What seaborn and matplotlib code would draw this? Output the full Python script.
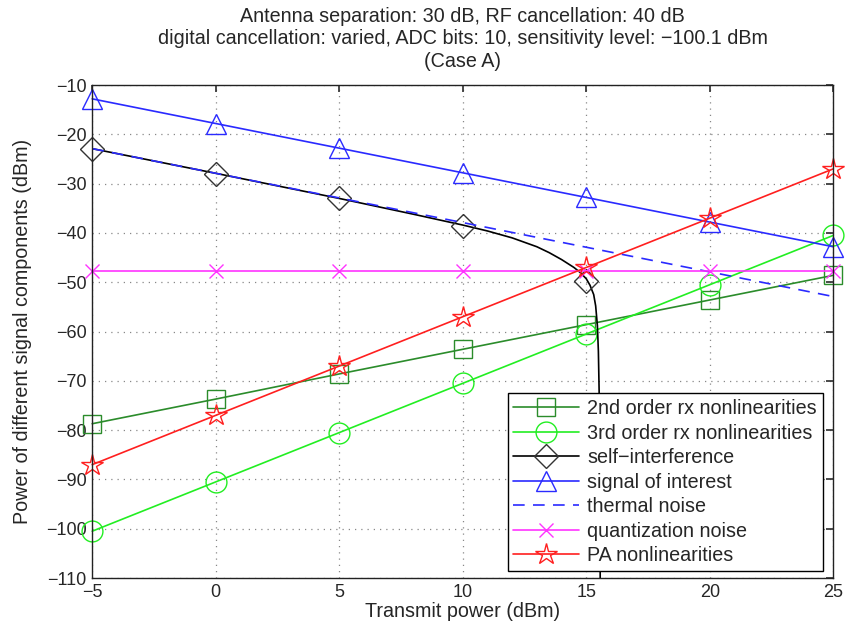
import numpy as np
import pandas as pd
import matplotlib
matplotlib.use("Agg")
import matplotlib.pyplot as plt
from matplotlib.lines import Line2D
import seaborn as sns

# ---- data ----
tx_power = [-5, 0, 5, 10, 15, 20, 25]
second_order = [-78.7, -73.7, -68.6, -63.6, -58.6, -53.6, -48.6]
third_order = [-100.5, -90.5, -80.5, -70.5, -60.5, -50.5, -40.5]
signal_of_interest = [-12.8, -17.8, -22.8, -27.8, -32.8, -37.8, -42.8]
thermal_noise = [-22.9, -27.9, -32.9, -37.9, -42.9, -47.9, -52.9]
quantization_noise = [-47.7, -47.7, -47.7, -47.7, -47.7, -47.7, -47.7]
pa_nonlin = [-87.0, -77.0, -67.0, -57.0, -47.0, -37.0, -27.0]
si_markers = [-22.9, -28.0, -33.0, -38.6, -49.8, np.nan, np.nan]
# self-interference curve (sampled along the drawn line)
si_curve_x = [-5, 0, 5, 8, 9, 10, 11, 12, 13, 13.5, 14, 14.5, 14.75, 15.0,
              15.15, 15.3, 15.38, 15.45, 15.49, 15.52, 15.55, 15.57]
si_curve_y = [-22.9, -27.9, -33.0, -36.2, -37.3, -38.4, -39.6, -41.0, -42.8,
              -44.0, -45.4, -47.0, -48.0, -49.3, -50.6, -52.5, -54.8, -58.8,
              -64.0, -72.0, -90.0, -120.0]

x_ticks = [-5, 0, 5, 10, 15, 20, 25]
y_ticks = [-110, -100, -90, -80, -70, -60, -50, -40, -30, -20, -10]

title = ("Antenna separation: 30 dB, RF cancellation: 40 dB\n"
         "digital cancellation: varied, ADC bits: 10, sensitivity level: \u2212100.1 dBm\n"
         "(Case A)")

sns.set_theme(style="white")
plt.rcParams['font.family'] = ['Liberation Sans', 'DejaVu Sans']
plt.rcParams['axes.unicode_minus'] = True

fig = plt.figure(figsize=(8.46, 6.30), dpi=100)
ax = fig.add_axes([0.109, 0.0825, 0.876, 0.7825])

c2 = '#2b8c2b'
c3 = '#22ee22'
cs = '#2a2aff'
cq = '#ff33ff'
cp = '#ff1f1f'

df = pd.DataFrame({'x': tx_power, 'y2': second_order, 'y3': third_order,
                   'ys': signal_of_interest, 'yt': thermal_noise,
                   'yq': quantization_noise, 'yp': pa_nonlin, 'ysi': si_markers})
dsi = pd.DataFrame({'x': si_curve_x, 'y': si_curve_y})

def series(col, color, marker, ms, lw=1.2, mew=1.0):
    sns.lineplot(data=df, x='x', y=col, ax=ax, color=color, lw=lw,
                 marker=marker, markersize=ms, markerfacecolor='none',
                 markeredgecolor=color, markeredgewidth=mew, legend=False,
                 clip_on=False)

series('y2', c2, 's', 13)
series('y3', c3, 'o', 15)
sns.lineplot(data=dsi, x='x', y='y', ax=ax, color='black', lw=1.2, legend=False,
             sort=False)
sns.lineplot(data=df, x='x', y='ysi', ax=ax, color='#333333', lw=0, marker='D',
             markersize=12, markerfacecolor='none', markeredgecolor='#333333',
             markeredgewidth=1.0, legend=False, clip_on=False)
series('ys', cs, '^', 15)
sns.lineplot(data=df, x='x', y='yt', ax=ax, color=cs, lw=1.2, legend=False,
             linestyle=(0, (7, 5)), clip_on=False)
series('yq', cq, 'x', 10)
series('yp', cp, '*', 16)

ax.set_xlim(-5, 25)
ax.set_ylim(-110, -10)
ax.set_xticks(x_ticks)
ax.set_yticks(y_ticks)
ax.tick_params(direction='in', length=5, top=True, right=True, labelsize=13,
               color='#333333', pad=4)
ax.grid(True, linestyle=(0, (1, 4)), color='#888888', linewidth=0.9)
for s in ax.spines.values():
    s.set_color('#222222')
    s.set_linewidth(1.0)
ax.set_xlabel('Transmit power (dBm)', fontsize=14.2, labelpad=1)
ax.set_ylabel('Power of different signal components (dBm)', fontsize=14.2, labelpad=10)
ax.set_title(title, fontsize=14.2, linespacing=1.24, pad=13)

handles = [
    Line2D([], [], color=c2, marker='s', markersize=13, markerfacecolor='none', lw=1.2),
    Line2D([], [], color=c3, marker='o', markersize=15, markerfacecolor='none', lw=1.2),
    Line2D([], [], color='black', marker='D', markersize=12, markerfacecolor='none',
           markeredgecolor='#333333', lw=1.2),
    Line2D([], [], color=cs, marker='^', markersize=15, markerfacecolor='none', lw=1.2),
    Line2D([], [], color=cs, lw=1.2, linestyle=(0, (7, 5))),
    Line2D([], [], color=cq, marker='x', markersize=10, lw=1.2),
    Line2D([], [], color=cp, marker='*', markersize=16, markerfacecolor='none', lw=1.2),
]
labels = ['2nd order rx nonlinearities', '3rd order rx nonlinearities',
          'self\u2212interference', 'signal of interest', 'thermal noise',
          'quantization noise', 'PA nonlinearities']
leg = ax.legend(handles, labels, loc='lower right', bbox_to_anchor=(0.986, 0.014),
                fontsize=14.2, frameon=True, fancybox=False, framealpha=1,
                edgecolor='black', handlelength=3.3, handletextpad=0.45,
                labelspacing=0.28, borderpad=0.3, borderaxespad=0.0)
leg.get_frame().set_linewidth(1.0)

fig.savefig('out.png', dpi=100)
